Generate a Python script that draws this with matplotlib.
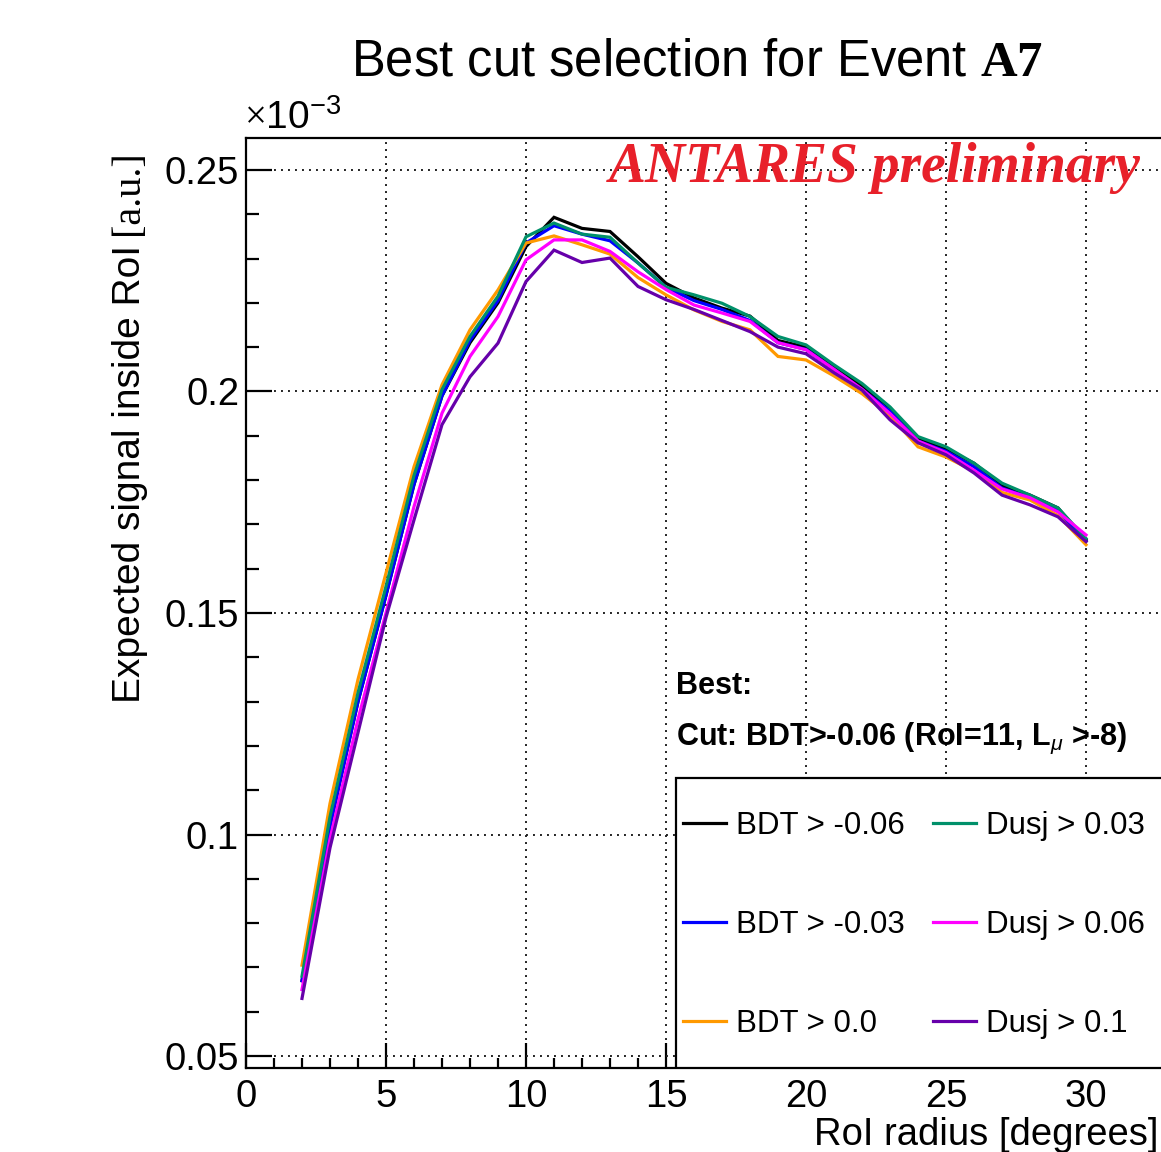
import matplotlib.pyplot as plt
import matplotlib.patches as patches
from matplotlib.ticker import MultipleLocator, FuncFormatter

plt.rcParams['font.family'] = ['Liberation Sans', 'DejaVu Sans']
plt.rcParams['mathtext.fontset'] = 'custom'
plt.rcParams['mathtext.rm'] = 'Liberation Serif'
plt.rcParams['mathtext.bf'] = 'Liberation Serif:bold'
plt.rcParams['mathtext.sf'] = 'Liberation Sans'
plt.rcParams['mathtext.it'] = 'Liberation Sans:italic'

# RoI radius (degrees) and expected signal (x1e-3)
radius = list(range(2, 31))

bdt_m006 = [0.067, 0.102, 0.130, 0.154, 0.179, 0.199, 0.211, 0.220, 0.2327, 0.2393,
            0.2368, 0.2361, 0.2304, 0.2244, 0.2211, 0.2188, 0.2170, 0.2115, 0.2100, 0.2055,
            0.2012, 0.1963, 0.1893, 0.1870, 0.1838, 0.1788, 0.1766, 0.1737, 0.1665]
bdt_m003 = [0.067, 0.102, 0.130, 0.154, 0.179, 0.199, 0.2115, 0.2205, 0.2335, 0.2374,
            0.2355, 0.2340, 0.2290, 0.2235, 0.2205, 0.2185, 0.2160, 0.2110, 0.2095, 0.2050,
            0.2005, 0.1955, 0.1888, 0.1865, 0.1830, 0.1782, 0.1760, 0.1730, 0.1662]
bdt_0 = [0.0705, 0.107, 0.135, 0.159, 0.183, 0.2015, 0.2139, 0.2229, 0.2335, 0.2351,
         0.2331, 0.2310, 0.2257, 0.2218, 0.2184, 0.2158, 0.2139, 0.2079, 0.2071, 0.2035,
         0.1995, 0.1945, 0.1875, 0.1852, 0.1820, 0.1772, 0.1755, 0.1720, 0.1654]
dusj_003 = [0.068, 0.104, 0.132, 0.156, 0.181, 0.2004, 0.2124, 0.2215, 0.2349, 0.2380,
            0.2355, 0.2348, 0.2290, 0.2235, 0.2218, 0.2199, 0.2169, 0.2124, 0.2105, 0.2060,
            0.2018, 0.1965, 0.1898, 0.1875, 0.1838, 0.1793, 0.1766, 0.1737, 0.1668]
dusj_006 = [0.065, 0.099, 0.126, 0.150, 0.174, 0.1951, 0.2079, 0.2169, 0.2297, 0.2342,
            0.2342, 0.2316, 0.2270, 0.2230, 0.2195, 0.2177, 0.2158, 0.2110, 0.2094, 0.2050,
            0.2005, 0.1950, 0.1888, 0.1862, 0.1822, 0.1780, 0.1760, 0.1728, 0.1676]
dusj_01 = [0.063, 0.097, 0.123, 0.149, 0.171, 0.1925, 0.2033, 0.2109, 0.2248, 0.2319,
           0.2291, 0.2301, 0.2237, 0.2207, 0.2185, 0.2160, 0.2135, 0.2100, 0.2085, 0.2042,
           0.2003, 0.1936, 0.1884, 0.1857, 0.1816, 0.1766, 0.1744, 0.1717, 0.1661]

series = [
    ('BDT > -0.06', bdt_m006, '#000000'),
    ('BDT > -0.03', bdt_m003, '#0000ff'),
    ('BDT > 0.0', bdt_0, '#ff9900'),
    ('Dusj > 0.03', dusj_003, '#00906a'),
    ('Dusj > 0.06', dusj_006, '#ff00ff'),
    ('Dusj > 0.1', dusj_01, '#6600aa'),
]

W, H = 1161, 1152
def fx(px):
    return px / W
def fy(py):
    return 1 - py / H

fig = plt.figure(figsize=(W / 100, H / 100), dpi=100)
# axes frame runs past the right edge of the picture (cropped like the original)
ax = fig.add_axes([fx(246), fy(1068), 930 / W, 930 / H])

for label, vals, col in series:
    ax.plot(radius, vals, color=col, lw=2.3, label=label, solid_joinstyle='miter')

ax.set_xlim(0, 930 / 28)
ax.set_ylim(0.0473, 0.2572)

ax.xaxis.set_major_locator(MultipleLocator(5))
ax.xaxis.set_minor_locator(MultipleLocator(1))
ax.yaxis.set_major_locator(MultipleLocator(0.05))
ax.yaxis.set_minor_locator(MultipleLocator(0.01))
ax.yaxis.set_major_formatter(FuncFormatter(lambda v, p: f'{v:g}'))

ax.grid(True, which='major', ls=(0, (1, 2.6)), lw=1.4, color='#222222')
ax.tick_params(which='both', direction='in', top=False, right=False,
               labelsize=27.5, width=1.6, color='black')
ax.xaxis.set_tick_params(which='major', length=18, pad=8)
ax.xaxis.set_tick_params(which='minor', length=7.5)
ax.yaxis.set_tick_params(which='major', length=19, pad=5)
ax.yaxis.set_tick_params(which='minor', length=9.5)
for s in ax.spines.values():
    s.set_linewidth(1.6)

# legend box (white, covers grid and ticks)
x0 = (676 - 246) / 930
box = patches.Rectangle((x0, 0), 1.0, (1068 - 778) / 930, transform=ax.transAxes,
                        facecolor='white', edgecolor='black', lw=1.6, zorder=3)
ax.add_patch(box)
leg = ax.legend(ncol=2, loc='center left',
                bbox_to_anchor=((683 - 246) / 930, (1068 - 925) / 930),
                frameon=False, fontsize=22.5, handlelength=1.37, handletextpad=0.33,
                columnspacing=0.9, labelspacing=2.2, borderpad=0, borderaxespad=0)
leg.set_zorder(4)

# texts
fig.text(fx(697), fy(62), r'Best cut selection for Event $\mathbf{A7}$',
         fontsize=36.5, ha='center', va='center')
fig.text(fx(244), fy(118), r'$\times$10$^{\mathsf{-3}}$', fontsize=28, ha='left', va='center')
fig.text(fx(875), fy(168), 'ANTARES preliminary', color='#e8202a', fontsize=40,
         family='Liberation Serif', weight='bold', style='italic', ha='center', va='center',
         zorder=5)
fig.text(fx(676), fy(686), 'Best:', fontsize=22, weight='bold', ha='left', va='center')
fig.text(fx(676), fy(738), r'Cut: BDT>-0.06 (RoI=11, L$_{\mu}$ >-8)', fontsize=22,
         weight='bold', ha='left', va='center')
fig.text(fx(1158), fy(1135), 'RoI radius [degrees]', fontsize=27.5, ha='right', va='center')

# y label: sans part + serif "[a.u.]" on top
au = fig.text(fx(128), fy(150), '[a.u.]', family='Liberation Serif', fontsize=29,
              rotation=90, ha='center', va='top')
fig.canvas.draw()
au_h = au.get_window_extent().height
fig.text(fx(130), fy(150 + au_h + 10), 'Expected signal inside RoI', fontsize=28,
         rotation=90, ha='center', va='top')

fig.savefig('out.png', dpi=100)
